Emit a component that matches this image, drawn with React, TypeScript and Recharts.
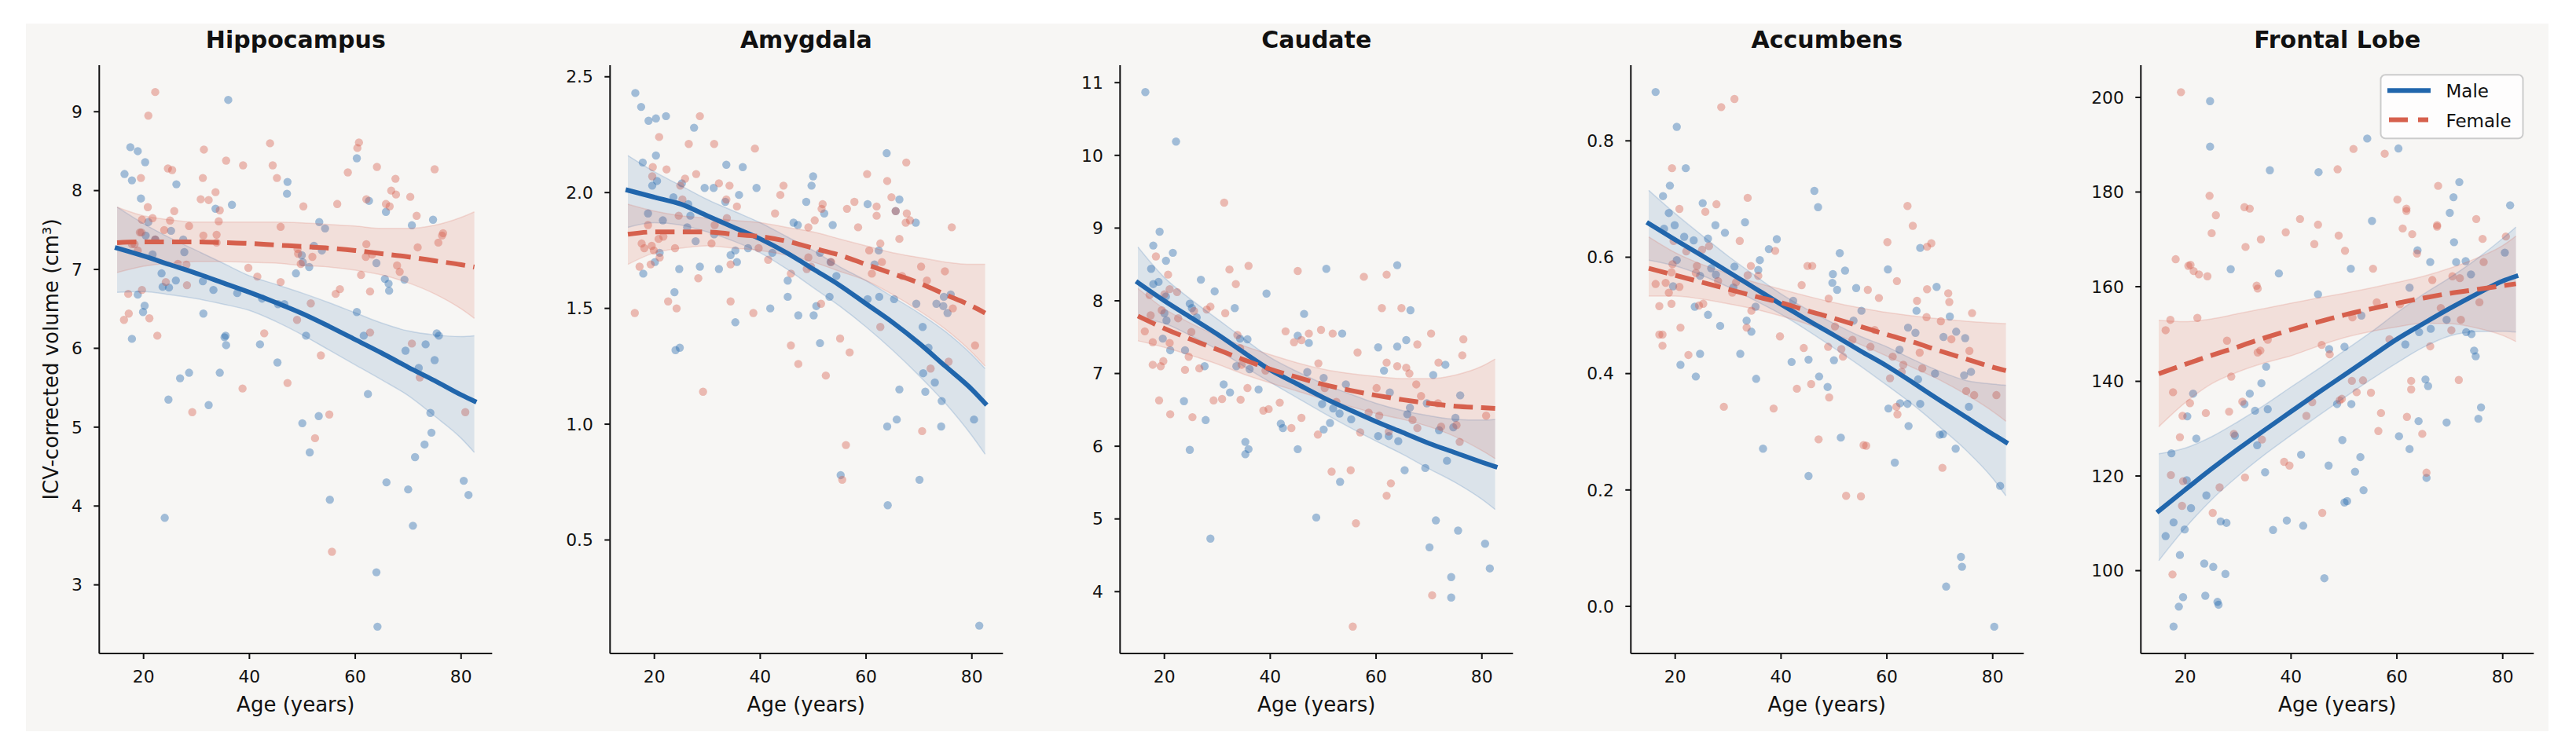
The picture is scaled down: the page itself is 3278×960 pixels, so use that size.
import React from 'react';
import { ComposedChart, Scatter, Line, Area, XAxis, YAxis } from 'recharts';

// ---------------- data ----------------
const panelTitles = ['Hippocampus', 'Amygdala', 'Caudate', 'Accumbens', 'Frontal Lobe'];
const ageTicks = [20, 40, 60, 80];
const ageDomain: [number, number] = [11.625, 85.875];

const hippocampusTicks = [3, 4, 5, 6, 7, 8, 9];
const amygdalaTicks = [0.5, 1.0, 1.5, 2.0, 2.5];
const caudateTicks = [4, 5, 6, 7, 8, 9, 10, 11];
const accumbensTicks = [0.0, 0.2, 0.4, 0.6, 0.8];
const frontalTicks = [100, 120, 140, 160, 180, 200];

const hippocampusDomain: [number, number] = [2.13, 9.59];
const amygdalaDomain: [number, number] = [0.01, 2.55];
const caudateDomain: [number, number] = [3.15, 11.24];
const accumbensDomain: [number, number] = [-0.081, 0.93];
const frontalDomain: [number, number] = [82.5, 206.8];

// scatter points: [age, volume]
const hippocampusMale = [[16.4,8.21],[17.5,8.55],[17.8,8.13],[18.9,8.5],[19.5,7.9],[20.3,8.36],[20.9,7.6],[20.4,7.43],[21.7,7.19],[22.2,7.38],[18.9,6.68],[20.2,6.54],[19.9,6.46],[17.8,6.12],[23.4,6.95],[23.6,6.78],[24.8,6.77],[25.2,7.49],[26.1,6.86],[26.2,8.08],[27.5,7.38],[27.7,7.22],[24.0,3.85],[24.7,5.35],[26.9,5.62],[28.6,5.69],[31.2,6.85],[31.3,6.44],[32.3,5.28],[33.2,6.74],[33.6,7.77],[34.4,5.69],[35.3,6.14],[35.5,6.16],[35.6,6.04],[36.0,9.15],[36.7,7.82],[37.7,6.7],[42.0,6.05],[42.4,6.63],[45.3,5.82],[45.4,6.56],[46.6,6.56],[47.2,8.11],[47.1,7.96],[48.8,6.95],[49.9,7.18],[50.1,7.09],[50.0,5.05],[50.7,6.16],[51.3,7.03],[51.4,4.68],[52.2,7.3],[53.1,5.14],[53.2,7.6],[54.3,7.52],[53.7,7.24],[55.2,4.08],[60.3,8.41],[60.3,6.46],[61.6,6.16],[62.4,5.42],[62.6,7.87],[64.0,7.08],[64.0,3.16],[64.2,2.47],[65.6,6.88],[65.8,7.73],[66.3,6.82],[66.4,6.73],[65.9,4.3],[69.3,6.87],[69.5,5.97],[70.0,4.21],[70.7,7.56],[70.9,3.75],[71.3,4.62],[72.0,5.75],[73.1,4.78],[73.3,6.05],[74.2,5.18],[74.4,4.93],[74.7,7.63],[75.0,5.85],[75.4,6.19],[75.8,6.16],[80.5,4.32],[81.4,4.14]];
const hippocampusFemale = [[16.3,6.36],[17.2,6.44],[17.1,6.69],[19.5,8.16],[19.3,7.47],[19.6,7.47],[18.9,7.24],[17.8,7.32],[18.3,7.32],[19.7,7.63],[19.7,6.74],[20.9,8.95],[20.8,7.79],[21.1,6.38],[21.7,7.65],[22.2,9.25],[22.2,7.38],[22.6,6.16],[23.9,7.5],[24.2,6.84],[24.6,8.28],[25.4,8.26],[25.0,7.62],[25.8,7.74],[26.5,7.07],[28.1,7.06],[28.2,6.8],[28.6,7.55],[29.2,5.19],[30.8,7.89],[31.3,7.43],[31.4,8.52],[31.2,8.16],[32.3,7.88],[33.6,7.98],[33.8,7.44],[34.2,7.61],[34.4,7.75],[33.8,7.34],[35.6,8.38],[38.7,5.49],[38.8,8.32],[39.8,7.02],[41.5,6.91],[42.8,6.19],[43.9,8.6],[44.4,8.32],[45.2,8.16],[45.9,7.54],[45.9,6.84],[47.2,5.56],[49.1,7.26],[49.2,7.2],[49.7,7.07],[49.0,6.36],[50.2,7.8],[51.6,6.57],[51.9,7.16],[52.4,4.86],[53.5,5.91],[55.1,5.16],[55.6,3.42],[56.3,6.69],[56.6,7.83],[57.1,6.75],[58.6,8.23],[60.4,8.54],[60.7,8.61],[61.1,6.93],[62.1,7.89],[62.1,7.32],[62.0,7.16],[62.8,6.2],[62.8,6.72],[63.2,7.19],[64.1,8.3],[65.8,7.83],[66.5,7.8],[66.8,8.0],[67.6,8.15],[67.7,7.95],[67.9,7.05],[68.4,6.97],[70.4,7.92],[70.7,6.06],[71.6,7.68],[71.8,7.28],[72.2,5.63],[75.0,8.27],[75.7,7.34],[76.4,7.43],[76.6,7.46],[80.8,5.19]];

const amygdalaMale = [[16.4,2.43],[17.5,2.37],[18.9,2.31],[20.3,2.32],[22.2,2.33],[17.8,2.13],[20.3,2.16],[27.5,2.28],[18.8,1.91],[19.6,2.03],[20.5,2.05],[17.9,1.65],[20.1,1.7],[21.0,1.74],[21.6,1.88],[23.6,1.98],[23.8,1.57],[24.0,1.32],[24.8,1.33],[24.7,1.67],[25.2,2.04],[26.2,1.85],[26.4,1.95],[26.8,1.9],[27.8,1.79],[28.6,1.68],[29.5,2.02],[31.2,2.02],[31.3,1.82],[32.2,1.67],[33.4,1.96],[33.6,2.12],[34.4,1.73],[35.3,1.75],[35.3,1.44],[35.6,1.7],[36.0,1.99],[36.7,2.11],[37.7,1.76],[39.3,2.02],[41.9,1.5],[42.3,1.74],[45.2,1.55],[45.2,1.62],[46.3,1.87],[47.1,1.86],[47.2,1.47],[48.7,1.96],[49.7,2.03],[50.0,2.07],[50.1,1.47],[50.6,1.51],[51.3,1.74],[51.3,1.35],[52.1,1.91],[53.1,1.55],[53.3,1.7],[53.7,1.86],[54.4,1.64],[55.2,0.78],[60.3,1.95],[60.3,1.54],[61.6,1.69],[62.4,1.75],[62.5,1.55],[63.9,2.17],[64.0,0.99],[64.1,0.65],[65.3,1.54],[65.6,1.92],[65.8,1.02],[66.3,1.97],[66.3,1.15],[69.4,1.87],[69.5,1.52],[70.1,0.76],[70.7,1.42],[70.8,1.22],[71.2,1.14],[71.8,1.33],[73.0,1.18],[73.3,1.52],[74.2,0.99],[74.3,1.1],[74.6,1.51],[74.7,1.55],[75.4,1.48],[76.0,1.56],[80.4,1.02],[81.4,0.13]];
const amygdalaFemale = [[16.3,1.48],[17.2,1.68],[17.6,1.78],[18.1,1.76],[18.8,1.86],[19.3,1.69],[19.5,1.77],[19.6,2.07],[19.7,2.11],[19.9,1.75],[20.8,1.8],[20.9,2.24],[21.0,1.72],[21.7,1.81],[22.3,2.1],[22.6,1.53],[23.9,1.76],[24.2,1.5],[24.6,1.9],[24.9,2.03],[25.3,1.97],[25.8,2.06],[26.5,2.21],[27.9,2.08],[28.6,2.33],[28.3,1.63],[29.2,1.14],[30.8,1.78],[31.3,2.21],[31.4,1.86],[32.2,2.04],[33.6,1.97],[33.7,1.89],[34.2,2.03],[34.4,1.53],[34.4,1.69],[35.6,1.94],[38.7,1.48],[39.0,2.19],[39.7,1.76],[41.5,1.71],[42.8,1.91],[43.8,1.99],[44.4,2.03],[45.8,1.65],[45.8,1.34],[47.2,1.26],[48.8,1.67],[49.1,1.85],[49.1,1.72],[49.6,1.68],[50.3,1.88],[51.6,1.93],[51.8,1.95],[51.5,1.52],[52.4,1.21],[53.4,1.7],[55.1,1.37],[55.5,0.76],[56.2,0.91],[56.4,1.93],[56.9,1.31],[57.8,1.96],[58.5,1.85],[60.2,2.08],[60.6,1.75],[61.1,1.65],[62.0,1.94],[62.0,1.9],[62.7,1.42],[62.7,1.78],[63.0,1.7],[64.0,2.05],[64.8,1.98],[65.6,1.92],[66.3,1.8],[66.8,1.64],[67.6,2.13],[67.5,1.87],[67.7,1.91],[68.3,1.88],[70.4,1.68],[70.6,0.97],[71.5,1.62],[72.2,1.24],[74.9,1.66],[75.6,1.27],[76.2,1.85],[76.4,1.5],[80.6,1.34]];

const caudateMale = [[16.4,10.87],[22.2,10.19],[19.1,8.95],[17.9,8.76],[21.6,8.66],[20.3,8.55],[17.5,8.44],[18.9,8.26],[17.9,8.23],[20.3,8.06],[20.0,7.83],[20.4,7.73],[19.7,7.48],[21.1,7.32],[24.8,7.96],[25.2,7.9],[26.1,7.77],[26.9,8.29],[23.9,7.32],[23.7,6.62],[24.8,5.95],[27.6,7.1],[27.8,6.36],[28.7,4.73],[29.5,8.13],[31.2,6.85],[32.4,6.74],[33.3,7.9],[33.6,7.1],[34.3,7.48],[35.7,7.47],[36.1,7.06],[35.3,6.06],[35.3,5.89],[35.9,5.96],[37.8,6.78],[39.3,8.1],[42.0,6.31],[42.4,6.25],[45.2,7.52],[45.2,5.96],[46.4,7.82],[47.0,7.02],[47.3,7.42],[48.7,5.02],[49.8,6.58],[50.1,6.94],[50.1,6.23],[50.6,8.44],[51.3,6.32],[51.9,6.52],[53.1,6.45],[53.2,5.51],[53.6,7.55],[54.3,6.85],[55.3,6.37],[60.4,7.36],[60.4,6.14],[61.5,7.04],[62.6,6.74],[62.4,6.14],[64.0,8.49],[64.0,7.37],[64.2,6.07],[65.4,5.67],[65.7,7.46],[65.9,6.44],[66.4,6.53],[66.5,7.87],[69.3,5.7],[69.6,6.59],[70.1,4.61],[70.8,6.98],[71.3,4.98],[71.9,6.22],[73.1,7.12],[73.4,5.8],[74.2,4.2],[74.2,3.92],[74.6,6.26],[75.0,6.39],[75.5,4.84],[75.9,6.7],[80.6,4.66],[81.5,4.32]];
const caudateFemale = [[16.3,7.58],[17.2,8.08],[17.4,7.8],[17.8,7.43],[17.8,7.12],[18.4,8.61],[19.0,6.63],[19.3,7.1],[19.5,7.87],[19.8,7.17],[20.0,8.09],[20.7,8.36],[21.0,8.16],[21.1,6.44],[21.0,7.42],[22.4,8.12],[22.6,7.76],[23.9,7.05],[24.6,7.23],[25.1,7.57],[25.3,6.4],[25.6,7.86],[26.6,7.07],[28.0,7.88],[28.7,7.92],[29.3,6.63],[30.9,6.65],[31.5,7.83],[31.3,9.35],[32.3,8.43],[33.5,8.23],[33.8,7.53],[34.3,7.35],[34.4,6.64],[34.6,7.12],[35.7,6.8],[35.9,8.48],[38.7,6.49],[39.1,7.04],[39.7,6.51],[41.8,6.6],[42.9,7.58],[44.0,6.25],[44.5,7.43],[45.2,8.41],[45.9,7.46],[45.9,6.39],[47.3,7.55],[49.0,6.16],[49.1,7.14],[49.6,7.6],[50.3,6.8],[51.6,5.65],[51.8,7.55],[52.5,6.61],[55.2,5.67],[56.2,4.94],[56.5,7.29],[57.0,6.19],[57.7,8.33],[58.6,6.46],[60.1,6.8],[60.6,6.42],[61.1,7.9],[62.0,8.36],[62.0,5.32],[62.0,7.15],[62.8,5.49],[62.4,6.2],[64.0,7.1],[64.8,7.9],[65.7,7.08],[66.3,7.0],[66.9,6.36],[67.6,6.85],[67.8,7.4],[67.8,6.25],[68.5,6.69],[70.4,7.55],[70.6,3.95],[71.7,6.59],[71.8,7.15],[72.3,6.27],[75.2,6.29],[75.8,6.06],[76.3,7.25],[76.5,7.47],[80.8,6.42],[55.6,3.52]];

const accumbensMale = [[16.3,0.884],[20.3,0.824],[22.0,0.753],[19.0,0.723],[17.7,0.705],[18.8,0.676],[19.9,0.655],[17.9,0.649],[21.7,0.635],[23.5,0.629],[20.3,0.595],[19.6,0.55],[25.2,0.693],[26.2,0.632],[27.6,0.655],[29.4,0.642],[26.8,0.581],[27.7,0.57],[24.7,0.568],[23.7,0.515],[26.2,0.501],[28.5,0.482],[21.0,0.415],[23.9,0.395],[24.7,0.434],[31.2,0.584],[31.0,0.548],[33.2,0.66],[33.5,0.491],[32.3,0.434],[34.4,0.472],[35.2,0.515],[35.7,0.578],[36.0,0.595],[35.3,0.391],[36.6,0.271],[37.7,0.614],[39.2,0.631],[42.3,0.525],[42.0,0.42],[45.2,0.424],[45.2,0.224],[46.3,0.714],[47.0,0.686],[47.2,0.395],[48.8,0.377],[49.8,0.571],[49.7,0.556],[50.6,0.544],[51.1,0.607],[50.0,0.423],[51.3,0.29],[52.1,0.577],[53.7,0.491],[54.2,0.547],[55.2,0.508],[60.2,0.579],[60.3,0.34],[61.5,0.247],[62.4,0.441],[62.5,0.349],[63.9,0.348],[64.0,0.479],[64.1,0.31],[65.4,0.47],[65.6,0.508],[65.9,0.39],[66.3,0.616],[66.3,0.348],[69.1,0.4],[69.4,0.549],[70.0,0.295],[70.6,0.296],[70.7,0.463],[71.2,0.034],[71.9,0.498],[73.0,0.271],[73.1,0.472],[74.0,0.085],[74.2,0.068],[74.6,0.397],[74.8,0.461],[75.5,0.343],[75.9,0.403],[80.3,-0.035],[81.4,0.207]];
const accumbensFemale = [[16.3,0.554],[17.0,0.516],[17.0,0.467],[17.6,0.467],[17.6,0.448],[18.2,0.556],[18.8,0.539],[19.3,0.52],[19.3,0.574],[19.4,0.753],[19.5,0.588],[19.7,0.628],[20.8,0.683],[20.8,0.549],[21.0,0.479],[22.1,0.61],[22.5,0.432],[23.9,0.573],[24.1,0.585],[24.5,0.517],[25.3,0.52],[25.1,0.613],[25.7,0.678],[26.4,0.619],[27.8,0.691],[28.1,0.559],[28.7,0.858],[29.2,0.343],[30.8,0.539],[31.2,0.872],[31.5,0.557],[32.2,0.628],[33.5,0.479],[33.7,0.569],[33.7,0.702],[34.3,0.585],[34.4,0.508],[35.7,0.568],[38.6,0.34],[38.9,0.611],[39.8,0.464],[43.0,0.374],[43.9,0.552],[44.3,0.444],[45.0,0.585],[45.9,0.585],[45.7,0.382],[47.1,0.287],[49.0,0.529],[48.9,0.446],[49.1,0.359],[50.2,0.481],[51.4,0.442],[51.7,0.429],[52.3,0.19],[53.5,0.458],[55.1,0.189],[55.6,0.277],[56.1,0.276],[56.4,0.544],[56.9,0.446],[57.7,0.475],[58.5,0.53],[60.1,0.626],[60.6,0.392],[61.1,0.429],[61.9,0.559],[62.0,0.33],[61.8,0.343],[62.8,0.403],[63.1,0.415],[63.9,0.688],[64.9,0.654],[65.7,0.525],[66.2,0.436],[66.7,0.409],[67.5,0.497],[67.6,0.545],[67.6,0.618],[68.4,0.624],[70.2,0.49],[70.5,0.238],[71.6,0.538],[71.8,0.523],[72.2,0.459],[75.0,0.37],[75.6,0.439],[76.1,0.504],[76.5,0.363],[80.7,0.363]];

const frontalMale = [[16.3,107.3],[17.4,124.8],[17.8,88.2],[17.8,110.2],[18.8,92.4],[19.0,103.3],[19.6,94.4],[19.9,108.7],[20.3,119.1],[20.4,132.6],[21.1,113.2],[21.5,137.4],[22.1,127.9],[23.6,101.5],[23.8,94.7],[24.0,115.9],[24.7,199.2],[24.7,189.6],[25.3,100.8],[26.1,93.4],[26.3,92.8],[26.7,110.4],[27.6,99.3],[27.8,110.1],[28.6,163.7],[29.4,128.5],[31.2,135.2],[32.2,137.4],[33.2,133.8],[33.6,126.5],[34.4,139.6],[35.1,120.8],[35.3,143.1],[35.6,134.1],[36.0,184.6],[36.6,108.6],[37.7,162.8],[39.2,110.6],[41.9,124.5],[42.3,109.5],[45.2,184.2],[45.1,158.4],[46.3,98.4],[47.2,146.8],[47.1,122.2],[48.7,135.2],[49.7,127.6],[50.1,147.3],[50.1,114.4],[50.6,114.7],[51.3,163.8],[51.4,135.2],[52.1,120.9],[53.1,124.0],[53.3,153.9],[53.7,117.0],[54.4,191.3],[55.3,173.9],[60.3,189.2],[60.4,128.4],[61.6,147.8],[62.4,159.8],[62.4,125.7],[63.9,167.7],[64.1,131.6],[64.2,150.4],[65.4,140.4],[65.9,139.0],[65.6,119.6],[66.3,165.2],[66.4,151.1],[69.4,131.3],[69.4,153.0],[70.0,175.6],[70.7,178.9],[70.8,169.4],[71.2,165.2],[71.8,182.1],[73.0,165.4],[73.1,150.4],[74.1,150.0],[74.0,162.6],[74.6,146.5],[74.9,145.3],[75.4,132.1],[75.9,134.5],[80.4,167.2],[81.4,177.2]];
const frontalFemale = [[16.3,150.8],[17.2,153.0],[17.3,120.2],[17.6,99.2],[17.7,137.7],[18.2,165.8],[19.0,128.2],[19.2,201.1],[19.5,132.7],[19.6,118.9],[19.4,113.7],[20.6,164.4],[20.9,135.4],[21.0,164.6],[21.6,163.3],[22.3,153.4],[22.6,162.6],[23.9,133.3],[24.2,162.2],[24.6,179.2],[25.0,171.3],[25.2,112.2],[25.8,175.1],[26.5,117.6],[27.9,148.6],[28.3,133.6],[28.7,141.0],[29.2,128.9],[30.8,135.7],[31.3,119.7],[31.4,168.4],[31.2,176.8],[32.2,176.5],[33.5,160.2],[33.7,159.6],[33.7,146.1],[34.2,146.5],[34.3,170.0],[34.5,127.7],[35.6,148.8],[38.7,123.0],[39.0,171.5],[39.7,122.2],[41.7,174.3],[42.9,132.7],[44.0,135.6],[44.4,169.0],[45.1,173.1],[45.8,147.7],[45.9,112.2],[47.3,145.7],[48.8,184.8],[49.0,170.8],[49.2,136.0],[49.6,136.3],[50.2,167.6],[51.6,153.5],[51.8,189.1],[51.5,140.1],[52.4,137.7],[53.6,140.2],[55.1,137.6],[55.5,163.8],[56.2,156.7],[56.5,129.5],[57.0,133.3],[57.7,188.1],[58.6,148.9],[60.1,178.4],[60.6,156.3],[61.1,172.3],[61.8,176.5],[61.8,176.0],[61.9,132.5],[62.7,140.1],[62.7,138.3],[62.9,171.1],[63.8,167.0],[64.8,128.9],[65.6,120.7],[66.3,147.4],[66.7,161.4],[67.6,173.0],[67.6,172.7],[67.8,181.3],[68.3,155.5],[70.3,150.8],[70.5,162.2],[71.7,140.3],[71.9,161.8],[72.1,153.0],[75.0,174.3],[75.6,156.7],[76.2,170.1],[76.4,165.2],[80.6,170.6]];

// fitted trend at these ages
const fitAges = [15, 20, 25, 30, 35, 40, 45, 50, 55, 60, 65, 70, 75, 80, 82.5];

const hippocampusMaleFit = [7.27, 7.17, 7.06, 6.95, 6.83, 6.71, 6.58, 6.44, 6.28, 6.11, 5.94, 5.76, 5.59, 5.41, 5.33];
const hippocampusMaleCI = [[6.71,7.79],[6.72,7.58],[6.68,7.4],[6.63,7.24],[6.56,7.08],[6.48,6.92],[6.34,6.81],[6.17,6.7],[5.98,6.58],[5.79,6.45],[5.6,6.32],[5.4,6.22],[5.14,6.17],[4.86,6.15],[4.68,6.16]];
const hippocampusFemaleFit = [7.34, 7.35, 7.35, 7.35, 7.34, 7.33, 7.31, 7.29, 7.27, 7.24, 7.2, 7.16, 7.11, 7.06, 7.03];
const hippocampusFemaleCI = [[6.96,7.79],[7.04,7.68],[7.08,7.63],[7.1,7.6],[7.1,7.6],[7.09,7.6],[7.08,7.6],[7.05,7.59],[7.03,7.57],[6.99,7.55],[6.93,7.52],[6.83,7.52],[6.69,7.56],[6.5,7.66],[6.38,7.73]];

const amygdalaMaleFit = [2.01, 1.98, 1.95, 1.9, 1.85, 1.8, 1.74, 1.67, 1.6, 1.52, 1.44, 1.35, 1.25, 1.15, 1.09];
const amygdalaMaleCI = [[1.85,2.16],[1.87,2.09],[1.86,2.03],[1.83,1.97],[1.79,1.92],[1.74,1.87],[1.67,1.81],[1.59,1.75],[1.51,1.68],[1.42,1.62],[1.32,1.55],[1.21,1.48],[1.09,1.4],[0.95,1.3],[0.87,1.24]];
const amygdalaFemaleFit = [1.82, 1.83, 1.83, 1.83, 1.82, 1.81, 1.79, 1.76, 1.73, 1.69, 1.65, 1.61, 1.56, 1.51, 1.48];
const amygdalaFemaleCI = [[1.69,1.95],[1.74,1.92],[1.76,1.9],[1.77,1.89],[1.76,1.88],[1.75,1.87],[1.73,1.85],[1.7,1.83],[1.66,1.8],[1.62,1.77],[1.56,1.74],[1.49,1.72],[1.41,1.7],[1.31,1.69],[1.25,1.69]];

const caudateMaleFit = [8.25, 8.0, 7.77, 7.54, 7.29, 7.05, 6.86, 6.67, 6.5, 6.34, 6.19, 6.04, 5.91, 5.78, 5.72];
const caudateMaleCI = [[7.76,8.74],[7.69,8.32],[7.52,8.02],[7.33,7.75],[7.1,7.48],[6.88,7.22],[6.67,7.03],[6.46,6.86],[6.26,6.72],[6.07,6.59],[5.89,6.49],[5.69,6.42],[5.5,6.37],[5.27,6.36],[5.13,6.37]];
const caudateFemaleFit = [7.79, 7.62, 7.47, 7.33, 7.19, 7.06, 6.95, 6.85, 6.77, 6.7, 6.64, 6.59, 6.55, 6.53, 6.52];
const caudateFemaleCI = [[7.45,8.17],[7.36,7.89],[7.25,7.69],[7.13,7.52],[6.99,7.38],[6.87,7.26],[6.76,7.15],[6.65,7.06],[6.55,7.0],[6.45,6.96],[6.37,6.93],[6.27,6.93],[6.13,6.98],[5.94,7.1],[5.83,7.2]];

const accumbensMaleFit = [0.658, 0.63, 0.603, 0.575, 0.547, 0.519, 0.492, 0.466, 0.439, 0.413, 0.384, 0.354, 0.325, 0.296, 0.282];
const accumbensMaleCI = [[0.595,0.715],[0.585,0.675],[0.569,0.638],[0.549,0.602],[0.526,0.569],[0.502,0.537],[0.474,0.51],[0.444,0.486],[0.413,0.464],[0.38,0.446],[0.346,0.424],[0.308,0.404],[0.268,0.388],[0.22,0.382],[0.19,0.38]];
const accumbensFemaleFit = [0.581, 0.569, 0.557, 0.545, 0.533, 0.522, 0.508, 0.495, 0.481, 0.467, 0.454, 0.439, 0.425, 0.411, 0.405];
const accumbensFemaleCI = [[0.533,0.635],[0.533,0.608],[0.528,0.588],[0.52,0.572],[0.511,0.557],[0.499,0.545],[0.485,0.533],[0.468,0.522],[0.45,0.513],[0.43,0.505],[0.41,0.499],[0.389,0.494],[0.364,0.49],[0.335,0.487],[0.318,0.486]];

const frontalMaleFit = [112.6, 117.1, 121.5, 125.7, 129.7, 133.6, 137.5, 141.3, 145.1, 148.9, 152.2, 155.4, 158.4, 161.2, 162.2];
const frontalMaleCI = [[102.1,124.7],[109.0,125.9],[115.0,128.3],[120.0,131.5],[124.5,135.0],[128.6,138.8],[132.6,142.5],[136.5,146.4],[140.3,150.3],[143.9,154.5],[147.2,158.4],[149.6,161.9],[150.5,165.8],[150.6,170.2],[150.4,172.6]];
const frontalFemaleFit = [141.6, 143.6, 145.5, 147.3, 149.2, 150.9, 152.5, 154.0, 155.3, 156.5, 157.6, 158.6, 159.4, 160.2, 160.6];
const frontalFemaleCI = [[130.4,152.9],[135.5,152.6],[139.5,153.2],[142.0,154.3],[143.9,155.4],[145.4,156.5],[147.4,157.6],[149.2,158.6],[150.5,159.7],[151.5,160.9],[152.3,162.2],[152.2,163.9],[151.3,166.0],[149.7,168.7],[148.4,170.7]];

// ---------------- styling ----------------
const MALE = '#2166ac';
const FEMALE = '#d6604d';
const INK = '#111111';
const FONT = 'DejaVu Sans';
const PANEL_STEP = 649.5;
const CHART_W = 650;
const CHART_H = 960;

type Pair = number[];
type PanelDef = {
  title: string;
  domain: [number, number];
  ticks: number[];
  fmt: (v: number) => string;
  male: Pair[];
  female: Pair[];
  maleFit: number[];
  maleCI: Pair[];
  femaleFit: number[];
  femaleCI: Pair[];
};

const oneDec = (v: number) => v.toFixed(1);
const intFmt = (v: number) => String(Math.round(v));

const panels: PanelDef[] = [
  { title: panelTitles[0], domain: hippocampusDomain, ticks: hippocampusTicks, fmt: intFmt, male: hippocampusMale, female: hippocampusFemale, maleFit: hippocampusMaleFit, maleCI: hippocampusMaleCI, femaleFit: hippocampusFemaleFit, femaleCI: hippocampusFemaleCI },
  { title: panelTitles[1], domain: amygdalaDomain, ticks: amygdalaTicks, fmt: oneDec, male: amygdalaMale, female: amygdalaFemale, maleFit: amygdalaMaleFit, maleCI: amygdalaMaleCI, femaleFit: amygdalaFemaleFit, femaleCI: amygdalaFemaleCI },
  { title: panelTitles[2], domain: caudateDomain, ticks: caudateTicks, fmt: intFmt, male: caudateMale, female: caudateFemale, maleFit: caudateMaleFit, maleCI: caudateMaleCI, femaleFit: caudateFemaleFit, femaleCI: caudateFemaleCI },
  { title: panelTitles[3], domain: accumbensDomain, ticks: accumbensTicks, fmt: oneDec, male: accumbensMale, female: accumbensFemale, maleFit: accumbensMaleFit, maleCI: accumbensMaleCI, femaleFit: accumbensFemaleFit, femaleCI: accumbensFemaleCI },
  { title: panelTitles[4], domain: frontalDomain, ticks: frontalTicks, fmt: intFmt, male: frontalMale, female: frontalFemale, maleFit: frontalMaleFit, maleCI: frontalMaleCI, femaleFit: frontalFemaleFit, femaleCI: frontalFemaleCI },
];

const makeDot = (color: string) => (props: any) => {
  const { cx, cy } = props;
  if (cx == null || cy == null) return <g />;
  return <circle cx={cx} cy={cy} r={5.2} fill={color} fillOpacity={0.4} stroke="none" />;
};
const maleDot = makeDot(MALE);
const femaleDot = makeDot(FEMALE);

function Panel({ p }: { p: PanelDef }) {
  const rows = fitAges.map((age, k) => ({
    age,
    m: p.maleFit[k],
    f: p.femaleFit[k],
    mBand: p.maleCI[k],
    fBand: p.femaleCI[k],
  }));
  const maleRows = p.male.map(([age, v]) => ({ age, v }));
  const femaleRows = p.female.map(([age, v]) => ({ age, v }));
  const tickStyle = { fill: INK, fontSize: 21.8, fontFamily: FONT };
  return (
    <ComposedChart width={CHART_W} height={CHART_H} data={rows} margin={{ top: 83, right: 23.7, bottom: 98, left: 66.3 }}>
      <XAxis
        type="number"
        dataKey="age"
        domain={ageDomain}
        ticks={ageTicks}
        allowDataOverflow
        height={30}
        tickSize={7}
        tickMargin={15}
        tick={tickStyle}
        tickLine={{ stroke: INK, strokeWidth: 2 }}
        axisLine={{ stroke: INK, strokeWidth: 2 }}
      />
      <YAxis
        type="number"
        domain={p.domain}
        ticks={p.ticks}
        allowDataOverflow
        width={60}
        tickSize={7}
        tickMargin={14.5}
        tick={tickStyle}
        tickFormatter={p.fmt}
        tickLine={{ stroke: INK, strokeWidth: 2 }}
        axisLine={{ stroke: INK, strokeWidth: 2 }}
      />
      <Scatter data={maleRows} dataKey="v" shape={maleDot} isAnimationActive={false} zIndex={90} />
      <Scatter data={femaleRows} dataKey="v" shape={femaleDot} isAnimationActive={false} zIndex={90} />
      <Area type="monotone" dataKey="mBand" fill={MALE} fillOpacity={0.13} stroke={MALE} strokeOpacity={0.18} strokeWidth={1.5} dot={false} activeDot={false} isAnimationActive={false} zIndex={100} />
      <Line type="monotone" dataKey="m" stroke={MALE} strokeWidth={6} strokeLinecap="square" dot={false} activeDot={false} isAnimationActive={false} zIndex={400} />
      <Area type="monotone" dataKey="fBand" fill={FEMALE} fillOpacity={0.15} stroke={FEMALE} strokeOpacity={0.18} strokeWidth={1.5} dot={false} activeDot={false} isAnimationActive={false} zIndex={100} />
      <Line type="monotone" dataKey="f" stroke={FEMALE} strokeWidth={6} strokeDasharray="24.5 10.5" dot={false} activeDot={false} isAnimationActive={false} zIndex={400} />
    </ComposedChart>
  );
}

export default function App() {
  return (
    <div style={{ position: 'absolute', left: 0, top: 0, width: 3278, height: 960, background: '#ffffff', overflow: 'hidden', fontFamily: FONT }}>
      <div style={{ position: 'absolute', left: 33, top: 30, width: 3210, height: 901, background: '#f7f6f4' }} />
      {panels.map((p, i) => (
        <div key={p.title} style={{ position: 'absolute', left: PANEL_STEP * i, top: 0, width: CHART_W, height: CHART_H }}>
          <Panel p={p} />
        </div>
      ))}
      <svg width={3278} height={960} style={{ position: 'absolute', left: 0, top: 0, pointerEvents: 'none' }}>
        {panels.map((p, i) => {
          const cx = 376.3 + PANEL_STEP * i;
          return (
            <g key={p.title}>
              <text x={cx} y={61.2} textAnchor="middle" fontFamily={FONT} fontWeight="bold" fontSize={30} fill={INK}>{p.title}</text>
              <text x={cx} y={905.5} textAnchor="middle" fontFamily={FONT} fontSize={26} fill={INK}>Age (years)</text>
            </g>
          );
        })}
        <text transform="translate(73.5,457.5) rotate(-90)" textAnchor="middle" fontFamily={FONT} fontSize={26} fill={INK}>ICV-corrected volume (cm³)</text>
        <g>
          <rect x={3029.5} y={95.3} width={181} height={81} rx={6} ry={6} fill="#ffffff" fillOpacity={0.8} stroke="#cccccc" strokeWidth={2} />
          <line x1={3038} x2={3093} y1={115.3} y2={115.3} stroke={MALE} strokeWidth={6} />
          <line x1={3040} x2={3090} y1={152.5} y2={152.5} stroke={FEMALE} strokeWidth={6} strokeDasharray="24 13" />
          <text x={3112.5} y={124} fontFamily={FONT} fontSize={23} fill={INK}>Male</text>
          <text x={3112.5} y={162} fontFamily={FONT} fontSize={23} fill={INK}>Female</text>
        </g>
      </svg>
    </div>
  );
}
